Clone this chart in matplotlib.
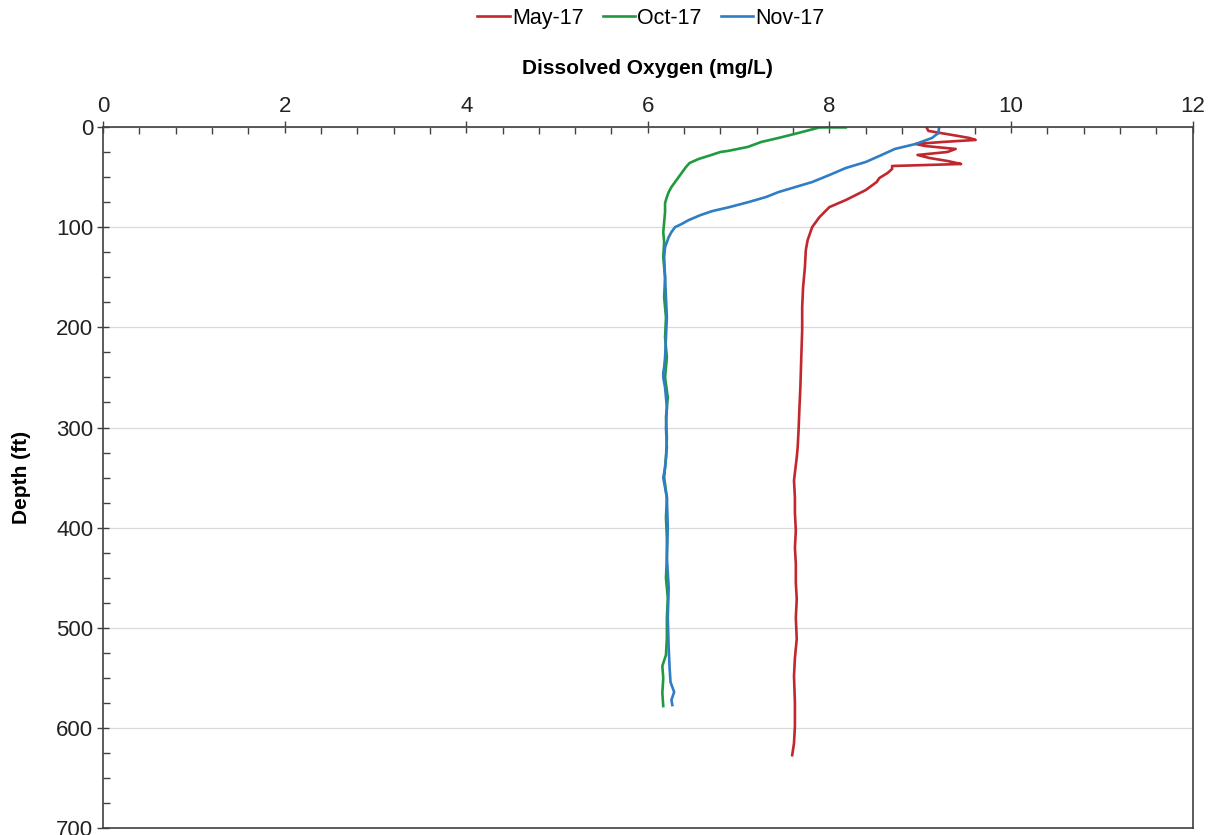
import matplotlib.pyplot as plt
from matplotlib.ticker import MultipleLocator

# May-17 profile
may_depth = [0.5, 4, 8, 11, 13, 15, 17, 19, 22, 25, 28, 31, 34, 36, 37, 39, 42, 46, 51, 55,
             63, 73, 80, 90, 100, 113, 123, 140, 160, 180, 203, 230, 260, 280, 303, 320, 330,
             345, 353, 370, 385, 403, 420, 436, 455, 471, 490, 511, 530, 548, 575, 598, 615, 627]
may_do = [9.07, 9.09, 9.35, 9.54, 9.61, 9.25, 8.95, 9.05, 9.39, 9.30, 8.97, 9.10, 9.30, 9.40,
          9.45, 8.69, 8.69, 8.64, 8.55, 8.52, 8.40, 8.18, 8.00, 7.89, 7.81, 7.76, 7.74, 7.73,
          7.71, 7.70, 7.70, 7.69, 7.68, 7.67, 7.66, 7.65, 7.64, 7.62, 7.61, 7.62, 7.62, 7.63,
          7.62, 7.63, 7.63, 7.64, 7.63, 7.64, 7.62, 7.61, 7.62, 7.62, 7.61, 7.59]

# Oct-17 profile
oct_depth = [0.5, 0.5, 6, 11, 15, 20, 24, 25, 28, 32, 36, 40, 45, 50, 55, 60, 65, 70, 76, 85,
             95, 105, 115, 130, 150, 170, 190, 210, 230, 250, 270, 290, 310, 330, 350, 370,
             390, 410, 430, 450, 470, 490, 510, 527, 538, 550, 565, 578]
oct_do = [8.18, 7.89, 7.66, 7.44, 7.25, 7.10, 6.88, 6.80, 6.70, 6.56, 6.46, 6.42, 6.38, 6.34,
          6.30, 6.26, 6.23, 6.21, 6.19, 6.19, 6.18, 6.17, 6.18, 6.17, 6.19, 6.18, 6.20, 6.19,
          6.21, 6.19, 6.22, 6.20, 6.21, 6.20, 6.18, 6.21, 6.20, 6.21, 6.21, 6.20, 6.22, 6.21,
          6.21, 6.20, 6.16, 6.17, 6.16, 6.17]

# Nov-17 profile
nov_depth = [0, 6, 11, 17, 22, 29, 35, 41, 48, 55, 65, 70, 75, 80, 84, 88, 93, 97, 100, 105,
             110, 120, 130, 150, 170, 190, 210, 230, 240, 245, 250, 260, 280, 300, 320, 340,
             350, 355, 370, 400, 430, 460, 490, 520, 540, 554, 564, 572, 577]
nov_do = [9.21, 9.20, 9.13, 8.95, 8.72, 8.55, 8.40, 8.18, 8.00, 7.81, 7.44, 7.30, 7.11, 6.90,
          6.71, 6.58, 6.45, 6.37, 6.30, 6.26, 6.23, 6.19, 6.18, 6.19, 6.20, 6.21, 6.20, 6.19,
          6.18, 6.17, 6.17, 6.19, 6.21, 6.20, 6.21, 6.19, 6.17, 6.18, 6.21, 6.22, 6.21, 6.23,
          6.22, 6.23, 6.24, 6.25, 6.29, 6.26, 6.27]

plt.rcParams['font.family'] = ['Liberation Sans', 'DejaVu Sans']

fig = plt.figure(figsize=(12.17, 8.35), dpi=100)
ax = fig.add_axes([0.0846, 0.008, 0.8954, 0.840])

ax.plot(may_do, may_depth, color='#c1272d', lw=1.9, label='May-17')
ax.plot(oct_do, oct_depth, color='#1f9a3f', lw=1.9, label='Oct-17')
ax.plot(nov_do, nov_depth, color='#2f7dc4', lw=1.9, label='Nov-17')

ax.set_xlim(0, 12)
ax.set_ylim(700, 0)
ax.xaxis.tick_top()
ax.xaxis.set_label_position('top')
ax.xaxis.set_major_locator(MultipleLocator(2))
ax.xaxis.set_minor_locator(MultipleLocator(0.4))
ax.yaxis.set_major_locator(MultipleLocator(100))
ax.yaxis.set_minor_locator(MultipleLocator(25))
ax.tick_params(which='major', direction='inout', length=8, width=1, colors='#404040',
               labelsize=16, labelcolor='#222222', pad=3)
ax.tick_params(which='minor', direction='in', length=5, width=1, colors='#404040')
ax.tick_params(axis='x', which='both', top=True, bottom=False)
ax.tick_params(axis='y', which='both', left=True, right=False)
ax.grid(axis='y', which='major', color='#d9d9d9', lw=0.9)
ax.set_axisbelow(True)
for s in ax.spines.values():
    s.set_color('#404040')
    s.set_linewidth(1.2)

ax.set_xlabel('Dissolved Oxygen (mg/L)', fontsize=15, fontweight='bold', labelpad=16)
ax.set_ylabel('Depth (ft)', fontsize=15, fontweight='bold', labelpad=18)

fig.legend(loc='center', bbox_to_anchor=(0.535, 0.978), ncol=3, frameon=False,
           handlelength=1.5, handletextpad=0.1, columnspacing=0.9,
           prop={'size': 15.5})

plt.savefig('out.png')
